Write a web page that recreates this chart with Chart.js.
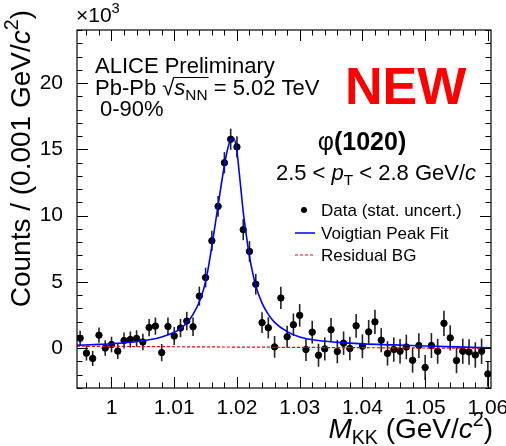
<!DOCTYPE html>
<html>
<head>
<meta charset="utf-8">
<script src="https://cdn.jsdelivr.net/npm/chart.js@4.4.0/dist/chart.umd.min.js"></script>
<style>
  html, body { margin: 0; padding: 0; background: #fff; }
  #wrap { width: 506px; height: 446px; }
</style>
</head>
<body>
<div id="wrap"><canvas id="chartPhi"></canvas></div>
<script>
// invariant mass bin centres (GeV/c^2), 1 MeV bins
var massBins = [0.995, 0.996, 0.997, 0.998, 0.999, 1.000, 1.001, 1.002, 1.003, 1.004,
  1.005, 1.006, 1.007, 1.008, 1.009, 1.010, 1.011, 1.012, 1.013, 1.014,
  1.015, 1.016, 1.017, 1.018, 1.019, 1.020, 1.021, 1.022, 1.023, 1.024,
  1.025, 1.026, 1.027, 1.028, 1.029, 1.030, 1.031, 1.032, 1.033, 1.034,
  1.035, 1.036, 1.037, 1.038, 1.039, 1.040, 1.041, 1.042, 1.043, 1.044,
  1.045, 1.046, 1.047, 1.048, 1.049, 1.050, 1.051, 1.052, 1.053, 1.054,
  1.055, 1.056, 1.057, 1.058, 1.059, 1.060];

// counts per bin
var counts = [750, -370, -770, 985, 10, 280, -220, 580, 660, 735,
  470, 1560, 1670, -330, 1640, 920, 1520, 2045, 1615, 3930,
  5330, 8100, 10700, 13990, 15760, 15180, 8940, 7300, 4825, 1930,
  1540, 100, 3790, 860, 1770, 2480, -100, 1210, -530, -50,
  1390, -250, 380, -25, 1690, 150, 1235, 1990, 605, -390,
  -100, -230, 90, -910, 200, -1450, 200, -230, 1880, 780,
  -930, -230, -280, -510, -230, -1940];

// stat. uncertainties
var countErr = [560, 560, 570, 580, 580, 590, 590, 600, 610, 620,
  630, 650, 650, 650, 670, 680, 690, 700, 700, 720,
  740, 760, 780, 800, 800, 800, 790, 780, 780, 790,
  800, 820, 840, 840, 850, 850, 860, 860, 870, 870,
  880, 880, 880, 890, 900, 900, 900, 910, 910, 920,
  920, 920, 930, 930, 930, 940, 940, 940, 950, 950,
  950, 950, 960, 960, 960, 960];

// voigtian fit curve, sampled off the plot
var fitX = [0.9945, 0.998, 1.000, 1.003, 1.006, 1.008, 1.010, 1.011, 1.012, 1.013,
  1.014, 1.015, 1.016, 1.017, 1.018, 1.0185, 1.019, 1.0195, 1.020, 1.0205,
  1.021, 1.0215, 1.022, 1.0225, 1.023, 1.024, 1.025, 1.026, 1.028, 1.030,
  1.033, 1.036, 1.040, 1.045, 1.050, 1.055, 1.0605];
var fitY = [220, 290, 340, 450, 640, 850, 1200, 1480, 1900, 2550,
  3500, 5000, 7700, 10800, 13800, 15000, 15750, 15850, 14800, 12600,
  10300, 8500, 6900, 5700, 4700, 3400, 2550, 1950, 1250, 850,
  580, 440, 330, 250, 170, 100, 30];

// residual background
var bgX = [0.9945, 1.0605];
var bgY = [150, -10];

var xTickVals = [1, 1.01, 1.02, 1.03, 1.04, 1.05, 1.06];
var xTickLabels = ['1', '1.01', '1.02', '1.03', '1.04', '1.05', '1.06'];
var yTickVals = [0, 5000, 10000, 15000, 20000];
var yTickLabels = ['0', '5', '10', '15', '20'];

var FONT = '"Liberation Sans", Arial, Helvetica, sans-serif';

function toXY(xs, ys) {
  return xs.map(function (x, i) { return { x: x, y: ys[i] }; });
}

function fontFor(kind, size) {
  var s = size, st = '';
  if (kind === 'sup' || kind === 'sub') s = size * 0.7;
  if (kind === 'i') st = 'italic ';
  if (kind === 'b') st = 'bold ';
  return st + s.toFixed(1) + 'px ' + FONT;
}

// draws text made of pieces: normal, italic, bold, superscript, subscript
function richText(ctx, segs, x, y, size, align) {
  var widths = segs.map(function (sg) {
    ctx.font = fontFor(sg[1], size);
    return ctx.measureText(sg[0]).width;
  });
  var total = widths.reduce(function (a, b) { return a + b; }, 0);
  var cx = align === 'right' ? x - total : (align === 'center' ? x - total / 2 : x);
  var pos = [];
  ctx.textAlign = 'left';
  ctx.textBaseline = 'alphabetic';
  segs.forEach(function (sg, i) {
    var dy = sg[1] === 'sup' ? -size * 0.42 : (sg[1] === 'sub' ? size * 0.22 : 0);
    ctx.font = fontFor(sg[1], size);
    ctx.fillText(sg[0], cx, y + dy);
    pos.push(cx);
    cx += widths[i];
  });
  pos.push(cx);
  return pos;
}

var errorBars = {
  id: 'errorBars',
  beforeDatasetsDraw: function (chart) {
    var ctx = chart.ctx, xs = chart.scales.x, ys = chart.scales.y, a = chart.chartArea;
    ctx.save();
    ctx.beginPath();
    ctx.rect(a.left, a.top, a.right - a.left, a.bottom - a.top);
    ctx.clip();
    ctx.strokeStyle = '#222';
    ctx.lineWidth = 1.6;
    massBins.forEach(function (m, i) {
      var px = xs.getPixelForValue(m);
      ctx.beginPath();
      ctx.moveTo(px, ys.getPixelForValue(counts[i] - countErr[i]));
      ctx.lineTo(px, ys.getPixelForValue(counts[i] + countErr[i]));
      ctx.stroke();
    });
    ctx.restore();
  }
};

// ROOT style frame, inward ticks and all the annotations
var decorations = {
  id: 'decorations',
  afterDraw: function (chart) {
    var ctx = chart.ctx, a = chart.chartArea, xs = chart.scales.x, ys = chart.scales.y;
    ctx.save();
    ctx.strokeStyle = '#000';
    ctx.lineWidth = 1.2;
    ctx.strokeRect(a.left, a.top, a.right - a.left, a.bottom - a.top);

    ctx.lineWidth = 1;
    ctx.beginPath();
    for (var k = 498; k <= 530; k++) {
      var px = Math.round(xs.getPixelForValue(k * 0.002)) + 0.5;
      var L = (k % 5 === 0) ? 11 : 5.5;
      ctx.moveTo(px, a.bottom); ctx.lineTo(px, a.bottom - L);
      ctx.moveTo(px, a.top); ctx.lineTo(px, a.top + L);
    }
    for (var j = -3; j <= 24; j++) {
      var py = Math.round(ys.getPixelForValue(j * 1000)) + 0.5;
      var Ly = (j % 5 === 0) ? 11 : 5.5;
      ctx.moveTo(a.left, py); ctx.lineTo(a.left + Ly, py);
      ctx.moveTo(a.right, py); ctx.lineTo(a.right - Ly, py);
    }
    ctx.stroke();

    ctx.fillStyle = '#000';
    // exponent
    richText(ctx, [['\u00d710', ''], ['3', 'sup']], 76, 22, 21, 'left');

    // axis titles
    richText(ctx, [['M', 'i'], ['KK', 'sub'], [' (GeV/', ''], ['c', 'i'], ['2', 'sup'], [')', '']], 493, 438, 28, 'right');
    ctx.save();
    ctx.translate(30, 10);
    ctx.rotate(-Math.PI / 2);
    richText(ctx, [['Counts / (0.001 GeV/', ''], ['c', 'i'], ['2', 'sup'], [')', '']], 0, 0, 28, 'right');
    ctx.restore();

    // labels
    richText(ctx, [['ALICE Preliminary', '']], 95, 73, 22, 'left');
    var p = richText(ctx, [['Pb-Pb ', ''], ['\u221a', ''], ['s', 'i'], ['NN', 'sub'], [' = 5.02 TeV', '']], 95, 95, 22, 'left');
    ctx.beginPath();
    ctx.lineWidth = 1.2;
    ctx.moveTo(p[2] - 1, 95 - 17.5);
    ctx.lineTo(p[4] + 1, 95 - 17.5);
    ctx.stroke();
    richText(ctx, [['0-90%', '']], 100, 116, 22, 'left');

    ctx.fillStyle = '#ff0000';
    ctx.font = 'bold 52px ' + FONT;
    ctx.fillText('NEW', 345, 104);

    ctx.fillStyle = '#000';
    richText(ctx, [['\u03c6', ''], ['(1020)', 'b']], 362, 150, 25, 'center');
    richText(ctx, [['2.5 < ', ''], ['p', 'i'], ['T', 'sub'], [' < 2.8 GeV/', ''], ['c', 'i']], 376, 180, 22, 'center');

    // legend
    ctx.beginPath();
    ctx.arc(304, 210, 3, 0, Math.PI * 2);
    ctx.fill();
    ctx.strokeStyle = '#0000ff';
    ctx.lineWidth = 1.5;
    ctx.beginPath(); ctx.moveTo(295, 233); ctx.lineTo(315, 233); ctx.stroke();
    ctx.strokeStyle = '#ff0000';
    ctx.lineWidth = 1.2;
    ctx.setLineDash([3, 2]);
    ctx.beginPath(); ctx.moveTo(295, 255); ctx.lineTo(315, 255); ctx.stroke();
    ctx.setLineDash([]);
    richText(ctx, [['Data (stat. uncert.)', '']], 321, 216, 17, 'left');
    richText(ctx, [['Voigtian Peak Fit', '']], 321, 239, 17, 'left');
    richText(ctx, [['Residual BG', '']], 321, 261, 17, 'left');
    ctx.restore();
  }
};

var ctx = document.getElementById('chartPhi').getContext('2d');

var data = {
  datasets: [{
    type: 'scatter',
    label: 'Data (stat. uncert.)',
    data: toXY(massBins, counts),
    backgroundColor: '#000',
    borderColor: '#000',
    pointRadius: 3.2,
    pointHoverRadius: 3.2,
    order: 3
  }, {
    type: 'line',
    label: 'Residual BG',
    data: toXY(bgX, bgY),
    borderColor: '#ff0000',
    borderWidth: 1.2,
    borderDash: [3, 2],
    pointRadius: 0,
    fill: false,
    order: 2
  }, {
    type: 'line',
    label: 'Voigtian Peak Fit',
    data: toXY(fitX, fitY),
    borderColor: '#0000ff',
    borderWidth: 1.6,
    pointRadius: 0,
    cubicInterpolationMode: 'monotone',
    fill: false,
    order: 1
  }]
};

var options = {
  responsive: false,
  animation: false,
  layout: { padding: { top: 30, right: 15, left: 0, bottom: 0 } },
  plugins: { legend: { display: false }, tooltip: { enabled: false } },
  scales: {
    x: {
      type: 'linear',
      min: 0.9945,
      max: 1.0605,
      grid: { display: false },
      border: { display: false },
      afterBuildTicks: function (scale) {
        scale.ticks = xTickVals.map(function (v) { return { value: v }; });
      },
      afterFit: function (scale) {
        scale.height = 58;
        scale.paddingLeft = 0;
        scale.paddingRight = 0;
      },
      ticks: {
        autoSkip: false,
        maxRotation: 0,
        padding: 0,
        color: '#000',
        font: { family: FONT, size: 21 },
        callback: function (v, i) { return xTickLabels[i]; }
      }
    },
    y: {
      min: -3000,
      max: 24000,
      grid: { display: false },
      border: { display: false },
      afterBuildTicks: function (scale) {
        scale.ticks = yTickVals.map(function (v) { return { value: v }; });
      },
      afterFit: function (scale) {
        scale.width = 77;
        scale.paddingTop = 0;
        scale.paddingBottom = 0;
      },
      ticks: {
        autoSkip: false,
        padding: 6,
        color: '#000',
        font: { family: FONT, size: 21 },
        callback: function (v, i) { return yTickLabels[i]; }
      }
    }
  }
};

var canvas = document.getElementById('chartPhi');
canvas.width = 506;
canvas.height = 446;

var phiChart = new Chart(ctx, {
  type: 'scatter',
  data: data,
  options: options,
  plugins: [errorBars, decorations]
});
</script>
</body>
</html>
